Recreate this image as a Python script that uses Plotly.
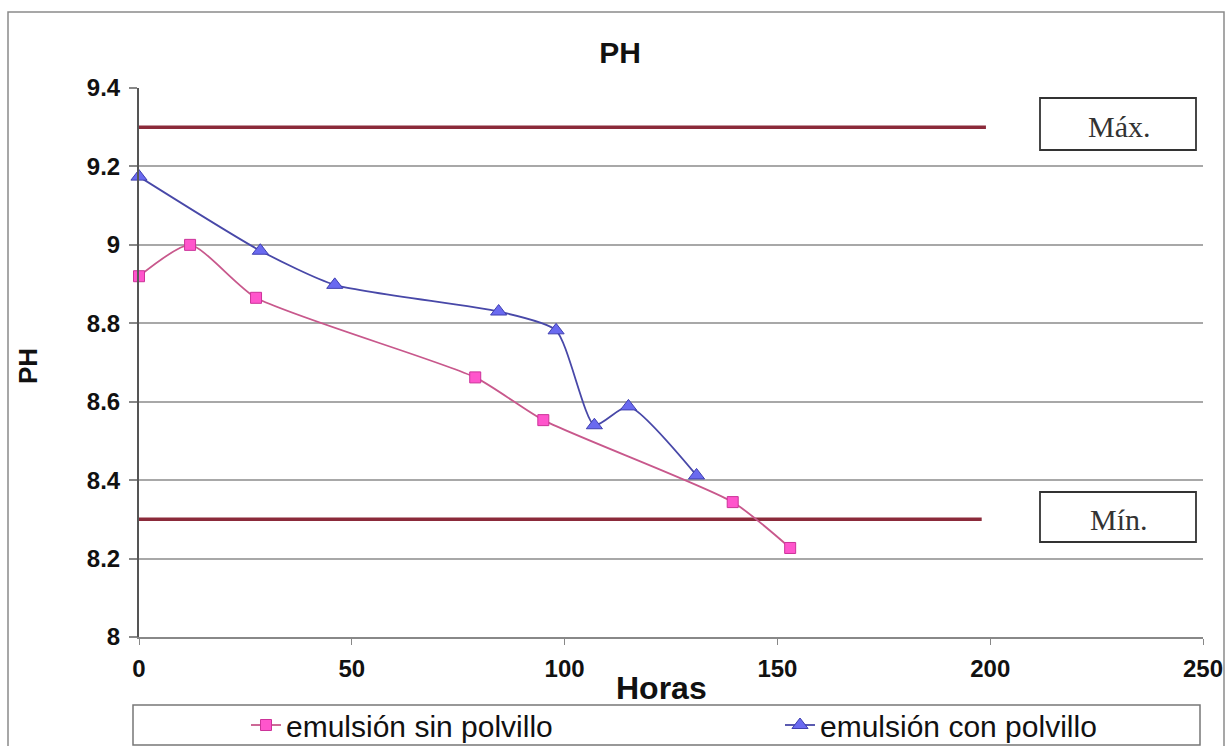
import plotly.graph_objects as go

# Data
horas_sin = [0, 12, 27.5, 79, 95, 139.5, 153]
ph_sin = [8.92, 9.0, 8.865, 8.662, 8.553, 8.344, 8.227]
horas_con = [0, 28.5, 46, 84.5, 98, 107, 115, 131]
ph_con = [9.174, 8.985, 8.898, 8.83, 8.782, 8.54, 8.588, 8.412]
lim_max_x = [0, 199]
lim_max_y = [9.3, 9.3]
lim_min_x = [0, 198]
lim_min_y = [8.3, 8.3]
x_ticks = [0, 50, 100, 150, 200, 250]
y_ticks = [8, 8.2, 8.4, 8.6, 8.8, 9, 9.2, 9.4]
y_ticklabels = ["8", "8.2", "8.4", "8.6", "8.8", "9", "9.2", "9.4"]

# plot-area pixel geometry
L, R, T, B = 139, 1203, 88, 637
W, H = R - L, B - T

def px(x):
    return (x - L) / W

def py(y):
    return (B - y) / H

fig = go.Figure()

lim_color = "#8b2a3a"
fig.add_trace(go.Scatter(x=lim_max_x, y=lim_max_y, mode="lines",
                         line=dict(color=lim_color, width=3.5), showlegend=False, hoverinfo="skip"))
fig.add_trace(go.Scatter(x=lim_min_x, y=lim_min_y, mode="lines",
                         line=dict(color=lim_color, width=3.5), showlegend=False, hoverinfo="skip"))

fig.add_trace(go.Scatter(
    x=horas_sin, y=ph_sin, mode="lines+markers", name="emulsión sin polvillo",
    line=dict(color="#c8588c", width=1.8, shape="spline", smoothing=0.6),
    marker=dict(symbol="square", size=11, color="#ff55cc", line=dict(color="#cc3399", width=1)),
    cliponaxis=False, legend="legend"))
fig.add_trace(go.Scatter(
    x=horas_con, y=ph_con, mode="lines+markers", name="emulsión con polvillo",
    line=dict(color="#4848a8", width=1.8, shape="spline", smoothing=0.6),
    marker=dict(symbol="triangle-up", size=14, color="#6a6af0", line=dict(color="#4040b0", width=1)),
    cliponaxis=False, legend="legend2"))

font_b = "Liberation Sans, Arial, sans-serif"
leg_common = dict(orientation="h", xanchor="left", yanchor="middle",
                  bgcolor="rgba(0,0,0,0)", borderwidth=0,
                  font=dict(family=font_b, size=30, color="#111"))

fig.update_layout(
    width=1228, height=746,
    margin=dict(l=L, r=1228 - R, t=T, b=746 - B, autoexpand=False),
    paper_bgcolor="white", plot_bgcolor="white",
    showlegend=True,
    title=dict(text="PH", x=620 / 1228, xanchor="center", y=1 - 52 / 746,
               yanchor="middle", yref="container", xref="container",
               font=dict(family=font_b, size=30, color="#111", weight="bold")),
    xaxis=dict(range=[0, 250], tickvals=x_ticks, ticktext=[str(v) for v in x_ticks],
               showgrid=False, zeroline=False, showline=True, linecolor="#888", linewidth=2,
               ticks="outside", ticklen=6, tickcolor="#888", tickwidth=1,
               tickfont=dict(family=font_b, size=24, color="#111", weight="bold"),
               ticklabelstandoff=3),
    yaxis=dict(range=[8, 9.4], tickvals=y_ticks, ticktext=y_ticklabels,
               showgrid=True, gridcolor="#a8a8a8", gridwidth=1.5, zeroline=False,
               showline=True, linecolor="#555", linewidth=2,
               ticks="outside", ticklen=8, tickcolor="#888", tickwidth=1.5,
               tickfont=dict(family=font_b, size=24, color="#111", weight="bold"),
               ticklabelstandoff=4),
    legend=dict(x=px(246), y=py(725), **leg_common),
    legend2=dict(x=px(780), y=py(725), **leg_common),
)

shapes = []
# outer chart border
shapes.append(dict(type="rect", xref="paper", yref="paper",
                   x0=px(8), x1=px(1224), y0=py(12), y1=py(752),
                   line=dict(color="#8a8a8a", width=1.5), layer="below"))
# legend box
shapes.append(dict(type="rect", xref="paper", yref="paper",
                   x0=px(133), x1=px(1200), y0=py(705), y1=py(745),
                   line=dict(color="#777", width=1.5), fillcolor="white", layer="below"))
# Máx / Mín boxes
for (top, bot) in [(98, 150), (492, 542)]:
    shapes.append(dict(type="rect", xref="paper", yref="paper",
                       x0=px(1040), x1=px(1196), y0=py(top), y1=py(bot),
                       line=dict(color="#333", width=1.8), fillcolor="white"))
fig.update_layout(shapes=shapes)

ann = []
ann.append(dict(text="PH", xref="paper", yref="paper", x=px(28), y=py(366),
                xanchor="center", yanchor="middle",
                textangle=-90, showarrow=False,
                font=dict(family=font_b, size=26, color="#111", weight="bold")))
ann.append(dict(text="Horas", xref="paper", yref="paper", x=px(661), y=py(688),
                xanchor="center", yanchor="middle",
                showarrow=False, font=dict(family=font_b, size=32, color="#111", weight="bold")))
serif = "Liberation Serif, Times New Roman, serif"
ann.append(dict(text="Máx.", xref="paper", yref="paper", x=px(1119), y=py(126),
                xanchor="center", yanchor="middle",
                showarrow=False, font=dict(family=serif, size=30, color="#333")))
ann.append(dict(text="Mín.", xref="paper", yref="paper", x=px(1119), y=py(519),
                xanchor="center", yanchor="middle",
                showarrow=False, font=dict(family=serif, size=30, color="#333")))
fig.update_layout(annotations=ann)

fig.write_html("out.html")
